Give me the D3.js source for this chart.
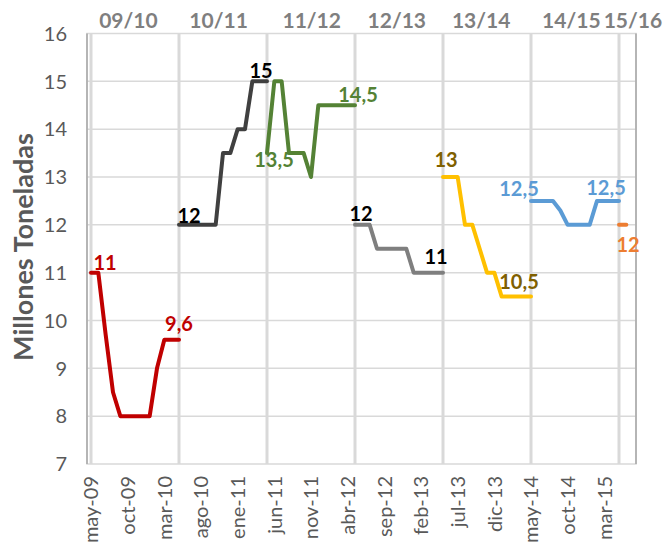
<!DOCTYPE html>
<html>
<head>
<meta charset="utf-8">
<script src="https://cdnjs.cloudflare.com/ajax/libs/d3/7.8.5/d3.min.js"></script>
<style>
  html, body { margin: 0; padding: 0; background: #fff; }
  svg { display: block; font-family: Lato, "Open Sans", sans-serif; }
  .tick-y { font-size: 20px; fill: #595959; }
  .tick-x { font-size: 20px; fill: #595959; }
  .season { font-size: 21px; font-weight: bold; fill: #7f7f7f; }
  .title-y { font-size: 27px; font-weight: bold; fill: #595959; }
  .dlabel { font-size: 20px; font-weight: bold; }
</style>
</head>
<body>
<svg id="chart" width="663" height="550"></svg>
<script>
(function () {
  "use strict";

  // month index 0 = may-09
  const xTickLabels = ["may-09", "oct-09", "mar-10", "ago-10", "ene-11", "jun-11", "nov-11", "abr-12",
    "sep-12", "feb-13", "jul-13", "dic-13", "may-14", "oct-14", "mar-15"];
  const yTicks = [7, 8, 9, 10, 11, 12, 13, 14, 15, 16];
  const seasons = ["09/10", "10/11", "11/12", "12/13", "13/14", "14/15", "15/16"];
  const seasonStart = [0, 12, 24, 36, 48, 60, 72];

  const v0910 = [11, 11, 9.7, 8.5, 8, 8, 8, 8, 8, 9, 9.6, 9.6, 9.6];
  const v1011 = [12, 12, 12, 12, 12, 12, 13.5, 13.5, 14, 14, 15, 15, 15];
  const v1112 = [13.5, 15, 15, 13.5, 13.5, 13.5, 13, 14.5, 14.5, 14.5, 14.5, 14.5, 14.5];
  const v1213 = [12, 12, 12, 11.5, 11.5, 11.5, 11.5, 11.5, 11, 11, 11, 11, 11];
  const v1314 = [13, 13, 13, 12, 12, 11.5, 11, 11, 10.5, 10.5, 10.5, 10.5, 10.5];
  const v1415 = [12.5, 12.5, 12.5, 12.5, 12.3, 12, 12, 12, 12, 12.5, 12.5, 12.5, 12.5];
  const v1516 = [12, 12];

  const seriesValues = [v0910, v1011, v1112, v1213, v1314, v1415, v1516];
  const lineColors = ["#c00000", "#404040", "#548235", "#7f7f7f", "#ffc000", "#5b9bd5", "#ed7d31"];

  // data labels: series, point, text
  const labelSeries = [0, 0, 1, 1, 2, 2, 3, 3, 4, 4, 5, 5, 6];
  const labelPoint = [0, 12, 0, 12, 0, 12, 0, 12, 0, 12, 0, 12, 0];
  const labelTexts = ["11", "9,6", "12", "15", "13,5", "14,5", "12", "11", "13", "10,5", "12,5", "12,5", "12"];
  const labelColors = ["#c00000", "#c00000", "#000", "#000", "#548235", "#548235", "#000", "#000",
    "#7f6000", "#7f6000", "#5b9bd5", "#5b9bd5", "#ed7d31"];

  // layout (pixel offsets, not data)
  const labelOffsets = [[14, -3], [0, -9], [10, -2], [-6, -3], [7, 14], [3, -3], [6, -4],
    [-7, -9], [3, -10], [-12, -8], [-12, -5], [-13, -6], [9, 27]];
  const seasonCenters = [5.1, 17.4, 30.1, 41.7, 53.2, 65.5, 73.9];

  const svg = d3.select("#chart");
  const left = 87, right = 636, top = 33.5, bottom = 464;

  const x = d3.scaleLinear().domain([0, 72]).range([91, 619]);
  const y = d3.scaleLinear().domain([7, 16]).range([bottom, top]);

  // horizontal grid
  svg.append("g").selectAll("line")
    .data(yTicks.filter(d => d > 7 && d < 16))
    .join("line")
    .attr("x1", left).attr("x2", right)
    .attr("y1", d => y(d)).attr("y2", d => y(d))
    .attr("stroke", "#d9d9d9").attr("stroke-width", 1.5);

  // vertical grid at season starts
  svg.append("g").selectAll("line")
    .data(seasonStart)
    .join("line")
    .attr("x1", d => x(d)).attr("x2", d => x(d))
    .attr("y1", top).attr("y2", bottom)
    .attr("stroke", "#d9d9d9").attr("stroke-width", 3);

  svg.append("rect")
    .attr("x", left).attr("y", top)
    .attr("width", right - left).attr("height", bottom - top)
    .attr("fill", "none").attr("stroke", "#d9d9d9").attr("stroke-width", 1.5);
  svg.append("line")
    .attr("x1", left).attr("x2", left).attr("y1", top).attr("y2", bottom)
    .attr("stroke", "#a6a6a6").attr("stroke-width", 1.5);
  svg.append("line")
    .attr("x1", right).attr("x2", right).attr("y1", top).attr("y2", bottom)
    .attr("stroke", "#a6a6a6").attr("stroke-width", 1.5);

  // y tick labels
  svg.append("g").selectAll("text")
    .data(yTicks)
    .join("text")
    .attr("class", "tick-y")
    .attr("x", 67)
    .attr("y", d => y(d))
    .attr("dy", "0.36em")
    .attr("text-anchor", "end")
    .text(d => d);

  // x tick labels (every 5 months)
  svg.append("g").selectAll("text")
    .data(xTickLabels)
    .join("text")
    .attr("class", "tick-x")
    .attr("text-anchor", "end")
    .attr("dy", "0.36em")
    .attr("transform", (d, i) => `translate(${x(i * 5)},476) rotate(-90)`)
    .text(d => d);

  // season labels on top
  svg.append("g").selectAll("text")
    .data(seasons)
    .join("text")
    .attr("class", "season")
    .attr("x", (d, i) => x(seasonCenters[i]))
    .attr("y", 28)
    .attr("text-anchor", "middle")
    .text(d => d);

  svg.append("text")
    .attr("class", "title-y")
    .attr("text-anchor", "middle")
    .attr("transform", `translate(33,247) rotate(-90)`)
    .text("Millones Toneladas");

  const line = d3.line()
    .x(d => x(d.m))
    .y(d => y(d.v));

  const series = seriesValues.map((vals, i) => vals.map((v, j) => ({ m: seasonStart[i] + j, v })));

  svg.append("g").selectAll("path")
    .data(series)
    .join("path")
    .attr("d", line)
    .attr("fill", "none")
    .attr("stroke", (d, i) => lineColors[i])
    .attr("stroke-width", 4)
    .attr("stroke-linejoin", "round")
    .attr("stroke-linecap", "round");

  svg.append("g").selectAll("text")
    .data(labelTexts)
    .join("text")
    .attr("class", "dlabel")
    .attr("text-anchor", "middle")
    .attr("fill", (d, i) => labelColors[i])
    .attr("x", (d, i) => x(series[labelSeries[i]][labelPoint[i]].m) + labelOffsets[i][0])
    .attr("y", (d, i) => y(series[labelSeries[i]][labelPoint[i]].v) + labelOffsets[i][1])
    .text(d => d);
})();
</script>
</body>
</html>
